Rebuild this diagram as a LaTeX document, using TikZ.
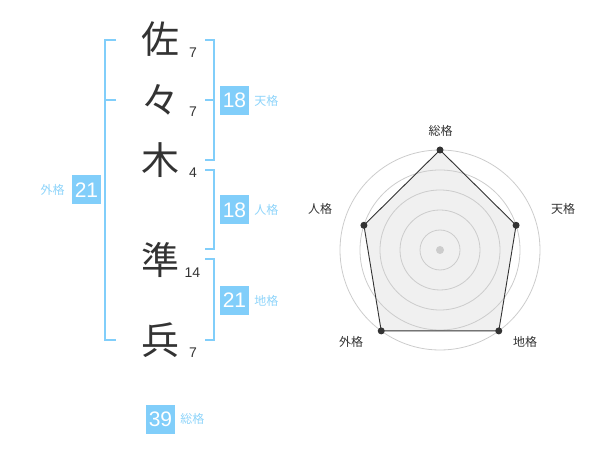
\documentclass[tikz,border=0pt]{standalone}
\usepackage{fontspec}
\setmainfont{Liberation Sans}
\newfontfamily\jpfont{Noto Sans CJK JP}
\usetikzlibrary{positioning}
\definecolor{skyblue}{RGB}{129,206,250}
\definecolor{paleblue}{RGB}{142,212,250}
\definecolor{chargray}{RGB}{51,51,51}
\definecolor{ringgray}{RGB}{204,204,204}
\definecolor{areagray}{RGB}{240,240,240}
\tikzset{
    kanji/.style={font=\jpfont\fontsize{38}{38}\selectfont, text=chargray, inner sep=0pt},
    strokes/.style={font=\fontsize{14}{14}\selectfont, text=chargray, inner sep=0pt},
    scorebox/.style={fill=skyblue, text=white, minimum size=29pt, inner sep=0pt, font=\fontsize{21}{21}\selectfont},
    kaku/.style={font=\jpfont\fontsize{12}{12}\selectfont, text=paleblue, inner sep=0pt},
    bracket/.style={draw=skyblue, line width=2pt},
    ring/.style={draw=ringgray, line width=0.8pt},
    axislabel/.style={font=\jpfont\fontsize{12}{12}\selectfont, text=chargray, inner sep=0pt},
    dot/.style={circle, fill=chargray, inner sep=0pt, minimum size=7pt},
}

\begin{document}
\begin{tikzpicture}[x=1pt, y=-1pt]
    \useasboundingbox (0,0) rectangle (600,470);
    %draw name characters
    \node[kanji] (sa) at (160,39) {佐};
    \node[kanji] (noma) at (160,100) {々};
    \node[kanji] (ki) at (160,160) {木};
    \node[kanji] (jun) at (160,260) {準};
    \node[kanji] (hei) at (160,340) {兵};
    %stroke counts
    \node[strokes] (nsa) at (193,53) {7};
    \node[strokes] (nnoma) at (193,112) {7};
    \node[strokes] (nki) at (193,173) {4};
    \node[strokes] (njun) at (192.5,273) {14};
    \node[strokes] (nhei) at (193,353) {7};
    %bracket corners
    \coordinate (lt) at (116,40);
    \coordinate (lm) at (116,100);
    \coordinate (lb) at (116,340);
    \coordinate (tt) at (205,40);
    \coordinate (tm) at (205,100);
    \coordinate (tb) at (205,160);
    \coordinate (jt) at (205,170);
    \coordinate (jb) at (205,249);
    \coordinate (ct) at (205,259);
    \coordinate (cb) at (205,340);
    %draw brackets
    \draw[bracket] (lt) -- ++(-11,0) |- (lb);
    \draw[bracket] (lm) -- ++(-11,0);
    \draw[bracket] (tt) -- ++(9,0) |- (tb);
    \draw[bracket] (tm) -- ++(9,0);
    \draw[bracket] (jt) -- ++(9,0) |- (jb);
    \draw[bracket] (ct) -- ++(9,0) |- (cb);
    %score boxes
    \node[scorebox] (ten) at (234.5,100.5) {18};
    \node[kaku, right=5pt of ten] (tenl) {天格};
    \node[scorebox] (jin) at (234.5,210) {18};
    \node[kaku, right=5pt of jin] (jinl) {人格};
    \node[scorebox] (chi) at (234.5,300.5) {21};
    \node[kaku, right=5pt of chi] (chil) {地格};
    \node[scorebox] (gai) at (86.5,190) {21};
    \node[kaku, left=7pt of gai] (gail) {外格};
    \node[scorebox] (sou) at (160.5,419) {39};
    \node[kaku, right=5pt of sou] (soul) {総格};
    %radar chart
    \begin{scope}[shift={(440,250)}]
        \coordinate (psou) at (-90:100);
        \coordinate (pten) at (-18:80);
        \coordinate (pchi) at (54:100);
        \coordinate (pgai) at (126:100);
        \coordinate (pjin) at (198:80);
        \fill[areagray] (psou) -- (pten) -- (pchi) -- (pgai) -- (pjin) -- cycle;
        \foreach \r in {20,40,...,100}
            \draw[ring] (0,0) circle [radius=\r];
        \fill[ringgray] (0,0) circle [radius=4];
        \draw[chargray, line width=0.9pt] (psou) -- (pten) -- (pchi) -- (pgai) -- (pjin) -- cycle;
        \foreach \p in {psou,pten,pchi,pgai,pjin}
            \node[dot] at (\p) {};
    \end{scope}
    %axis labels
    \node[axislabel] (asou) at (440.5,131) {総格};
    \node[axislabel] (aten) at (563,209) {天格};
    \node[axislabel] (achi) at (525,342) {地格};
    \node[axislabel] (agai) at (351,342) {外格};
    \node[axislabel] (ajin) at (320,209) {人格};
\end{tikzpicture}
\end{document}
